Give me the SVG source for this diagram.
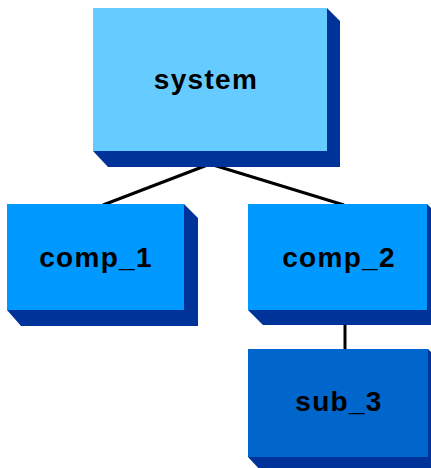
<svg xmlns="http://www.w3.org/2000/svg" width="431" height="468" viewBox="0 0 431 468">
<style>
.sh{fill:#003399}
.lbl{font-family:"Liberation Sans",Arial,sans-serif;font-weight:bold;font-size:28px;letter-spacing:1.3px;fill:#000;text-anchor:middle}
.edge{stroke:#000;stroke-width:3;fill:none}
</style>
<rect width="431" height="468" fill="#fff"/>
<g id="connectors">
<line class="edge" x1="210" y1="164" x2="103" y2="205"/>
<line class="edge" x1="210" y1="164" x2="344" y2="205"/>
<line class="edge" x1="345" y1="320" x2="345" y2="350"/>
</g>
<g id="system">
<polygon class="sh" points="327,8 340,21 340,167 108,167 93,151 327,151"/>
<rect x="93" y="8" width="234" height="143" fill="#66CCFF"/>
<text class="lbl" x="206" y="89">system</text>
</g>
<g id="comp_1">
<polygon class="sh" points="184,204 198,218 198,326 21,326 7,310 184,310"/>
<rect x="7" y="204" width="177" height="106" fill="#0099FF"/>
<text class="lbl" x="96" y="267">comp_1</text>
</g>
<g id="comp_2">
<polygon class="sh" points="427,204 441,218 441,325 263,325 248,310 427,310"/>
<rect x="248" y="204" width="179" height="106" fill="#0099FF"/>
<text class="lbl" x="339" y="267">comp_2</text>
</g>
<g id="sub_3">
<polygon class="sh" points="428,349 442,363 442,473 263,473 248,457 428,457"/>
<rect x="248" y="349" width="180" height="108" fill="#0066CC"/>
<text class="lbl" x="339" y="411">sub_3</text>
</g>
</svg>
